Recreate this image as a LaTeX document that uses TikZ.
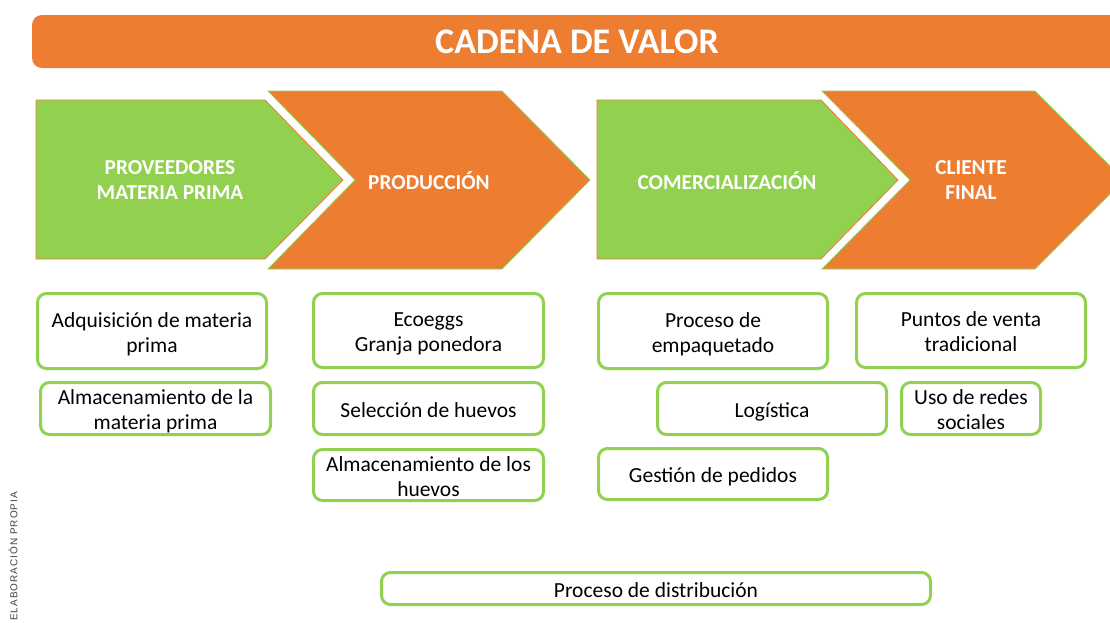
\documentclass[tikz,border=0pt]{standalone}
\usepackage{fontspec}
\setmainfont{Carlito}
\newfontfamily\notafont[LetterSpace=10]{Liberation Sans}
\definecolor{naranja}{HTML}{ED7D31}
\definecolor{verde}{HTML}{92D050}
\definecolor{gristexto}{HTML}{404040}

\begin{document}
\begin{tikzpicture}[x=1pt,y=-1pt,
  caja/.style={draw=verde,line width=3pt,rounded corners=9pt,fill=white,align=center,inner sep=0pt,
    font=\fontsize{21.5}{25}\selectfont,text height=21pt,text depth=3.5pt},
  dos/.style={text height=46pt},
  rotulo/.style={text=white,align=center,font=\bfseries\fontsize{21.3}{25}\selectfont}]
  \useasboundingbox (0,0) rectangle (1110,622);
  \fill [naranja,rounded corners=10pt] (32,15) rectangle (1140,68);
  \node (titulo) at (577,42) [text=white,font=\bfseries\fontsize{36}{44}\selectfont] {CADENA DE VALOR};
  \filldraw [fill=verde,draw=naranja,line width=0.8pt] (36,100) -- (265,100) -- (343,180) -- (265,259) -- (36,259) -- cycle;
  \filldraw [fill=naranja,draw=verde,line width=0.8pt] (268,91) -- (502,91) -- (590,180) -- (502,269) -- (268,269) -- (355,180) -- cycle;
  \filldraw [fill=verde,draw=naranja,line width=0.8pt] (597,100) -- (821,100) -- (898,180) -- (821,259) -- (597,259) -- cycle;
  \filldraw [fill=naranja,draw=verde,line width=0.8pt] (822,91) -- (1035,91) -- (1124,180) -- (1035,269) -- (822,269) -- (910,180) -- cycle;
  \node (prov) at (170,180) [rotulo] {PROVEEDORES\\MATERIA PRIMA};
  \node (prod) at (429,181) [rotulo] {PRODUCCIÓN};
  \node (com) at (727,181) [rotulo] {COMERCIALIZACIÓN};
  \node (cli) at (971,180) [rotulo] {CLIENTE\\FINAL};
  \node (adq) at (152,331) [caja,dos,minimum width=229pt,minimum height=75pt] {Adquisición de materia\\prima};
  \node (almmp) at (155.5,408.5) [caja,dos,minimum width=230pt,minimum height=52pt] {Almacenamiento de la\\materia prima};
  \node (eco) at (428.5,330.5) [caja,dos,minimum width=230pt,minimum height=74pt] {Ecoeggs\\Granja ponedora};
  \node (sel) at (428.5,408.5) [caja,minimum width=230pt,minimum height=52pt] {Selección de huevos};
  \node (almh) at (428.5,475) [caja,dos,minimum width=230pt,minimum height=51pt] {Almacenamiento de los\\huevos};
  \node (emp) at (713,331) [caja,dos,minimum width=229pt,minimum height=75pt] {Proceso de\\empaquetado};
  \node (pv) at (971,330.5) [caja,dos,minimum width=229pt,minimum height=74pt] {Puntos de venta\\tradicional};
  \node (log) at (772,408.5) [caja,minimum width=229pt,minimum height=52pt] {Logística};
  \node (redes) at (971,408.5) [caja,dos,minimum width=139pt,minimum height=52pt] {Uso de redes\\sociales};
  \node (ped) at (713,474) [caja,minimum width=229pt,minimum height=51pt] {Gestión de pedidos};
  \node (dist) at (656,588.5) [caja,minimum width=549pt,minimum height=32pt] {Proceso de distribución};
  \node (fuente) at (13,621) [rotate=90,anchor=west,inner sep=0pt,text=gristexto,font=\notafont\fontsize{10}{12}\selectfont] {ELABORACIÓN PROPIA};
\end{tikzpicture}
\end{document}
